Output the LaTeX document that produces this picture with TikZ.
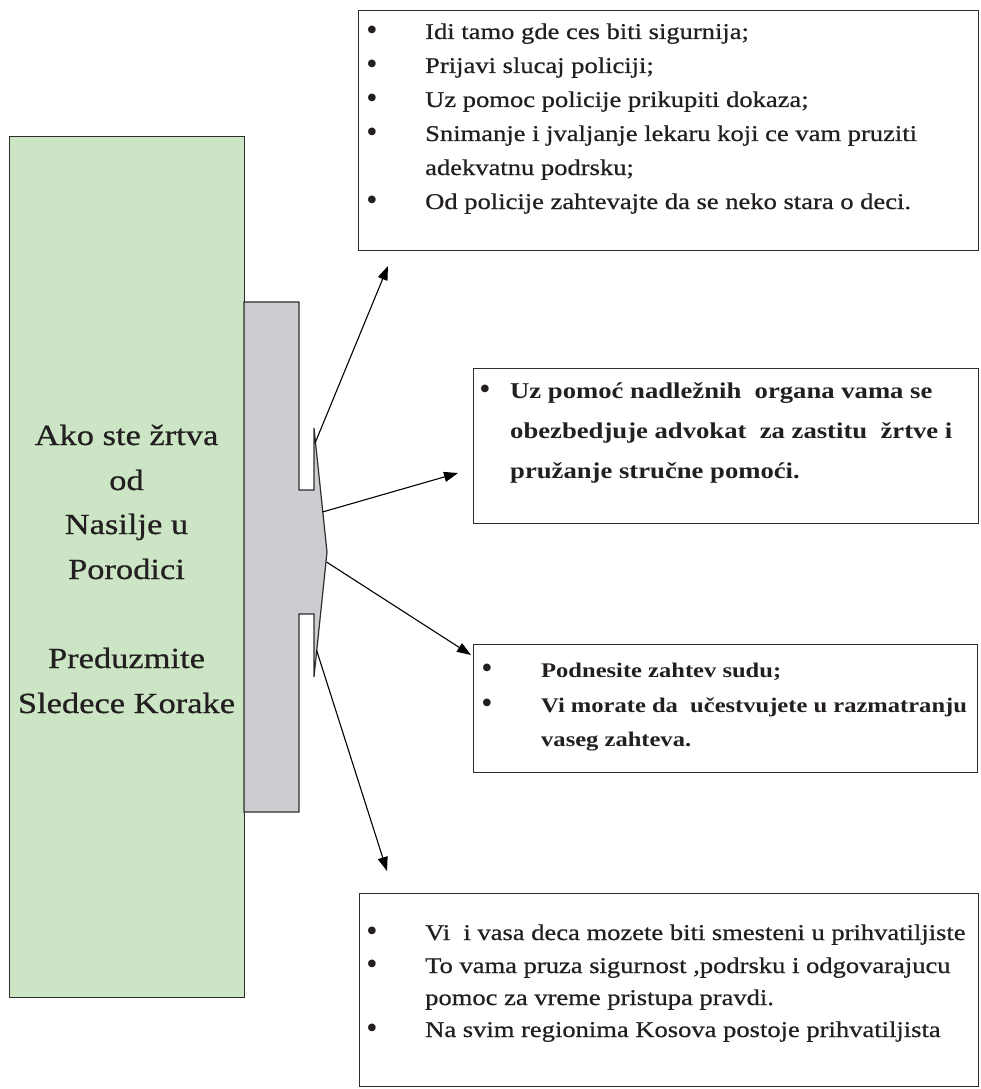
\documentclass[tikz,border=0pt]{standalone}
\usepackage{fontspec}
\setmainfont{Liberation Serif}
\newfontfamily\boxfont[FakeStretch=1.18]{Liberation Serif}
\newfontfamily\regfont[FakeStretch=1.18,FakeBold=0.7]{Liberation Serif}
\usetikzlibrary{arrows.meta}
\definecolor{greenfill}{RGB}{204,230,197}
\definecolor{grayfill}{RGB}{204,205,208}
\definecolor{ink}{RGB}{35,31,32}
\definecolor{edge}{RGB}{45,45,45}
\begin{document}
\begin{tikzpicture}[x=1pt,y=-1pt,
  panel/.style={draw=edge, line width=1.3pt, rectangle, inner sep=0pt, anchor=north west},
  ln/.style={anchor=base west, inner sep=0pt, text=ink},
  bul/.style={anchor=center, inner sep=0pt, text=ink, font=\fontsize{32}{32}\selectfont},
  reg/.style={font=\regfont\fontsize{22.5}{34}\selectfont},
  bld/.style={font=\boxfont\bfseries\fontsize{22.6}{38}\selectfont},
  bldc/.style={font=\boxfont\bfseries\fontsize{20.8}{34}\selectfont},
  ttl/.style={anchor=base, inner sep=0pt, text=ink, font=\regfont\fontsize{29.2}{44}\selectfont},
  conn/.style={line width=1.1pt, draw=black, -{Triangle[length=14pt,width=10pt]}}
]
\useasboundingbox (0,0) rectangle (980,1089);
% main green panel
\node[panel, fill=greenfill, minimum width=235pt, minimum height=861pt] (main) at (9,136) {};
\node[ttl] (t1) at (126.5,445) {Ako ste žrtva};
\node[ttl] (t2) at (126.5,490) {od};
\node[ttl] (t3) at (126.5,534) {Nasilje u};
\node[ttl] (t4) at (126.5,579) {Porodici};
\node[ttl] (t5) at (126.5,668) {Preduzmite};
\node[ttl] (t6) at (126.5,713) {Sledece Korake};
% grey arrow shape
\draw[draw=edge, line width=1.2pt, fill=grayfill]
  (244,302) -- (299,302) -- (299,490) -- (314,490) -- (314,428) -- (327,552)
  -- (314,677) -- (314,614) -- (299,614) -- (299,812) -- (244,812) -- cycle;
\coordinate (s1) at (315.5,442);
\coordinate (s2) at (322.5,512);
\coordinate (s3) at (326.5,562);
\coordinate (s4) at (316.5,650);
\coordinate (e1) at (388,266);
\coordinate (e2) at (458,473);
\coordinate (e3) at (471,655);
\coordinate (e4) at (387,871);
% boxes
\node[panel, minimum width=620pt, minimum height=240pt] (b1) at (358,10) {};
\node[panel, minimum width=505pt, minimum height=155pt] (b2) at (473,368) {};
\node[panel, minimum width=504pt, minimum height=128pt] (b3) at (473,644) {};
\node[panel, minimum width=619pt, minimum height=193pt] (b4) at (359,893) {};
% connectors
\draw[conn] (s1) -- (e1);
\draw[conn] (s2) -- (e2);
\draw[conn] (s3) -- (e3);
\draw[conn] (s4) -- (e4);
% box 1 text
\begin{scope}[reg]
\node[bul] (b1a) at (372,33) {•};
\node[ln] (b1at) at (425,39) {Idi tamo gde ces biti sigurnija;};
\node[bul] (b1b) at (372,67) {•};
\node[ln] (b1bt) at (425,73) {Prijavi slucaj policiji;};
\node[bul] (b1c) at (372,101) {•};
\node[ln] (b1ct) at (425,107) {Uz pomoc policije prikupiti dokaza;};
\node[bul] (b1d) at (372,135) {•};
\node[ln] (b1dt) at (425,141) {Snimanje i jvaljanje lekaru koji ce vam pruziti};
\node[ln] (b1et) at (425,175) {adekvatnu podrsku;};
\node[bul] (b1f) at (372,203) {•};
\node[ln] (b1ft) at (425,209) {Od policije zahtevajte da se neko stara o deci.};
\end{scope}
% box 2 text
\begin{scope}[bld]
\node[bul] (b2a) at (485,392) {•};
\node[ln] (b2at) at (510,398) {Uz pomoć nadležnih\ \ organa vama se};
\node[ln] (b2bt) at (510,438) {obezbedjuje advokat\ \ za zastitu\ \ žrtve i};
\node[ln] (b2ct) at (510,478) {pružanje stručne pomoći.};
\end{scope}
% box 3 text
\begin{scope}[bldc]
\node[bul] (b3a) at (487,671) {•};
\node[ln] (b3at) at (541,677) {Podnesite zahtev sudu;};
\node[bul] (b3b) at (487,706) {•};
\node[ln] (b3bt) at (541,712) {Vi morate da\ \ učestvujete u razmatranju};
\node[ln] (b3ct) at (541,746) {vaseg zahteva.};
\end{scope}
% box 4 text
\begin{scope}[reg]
\node[bul] (b4a) at (372,934) {•};
\node[ln] (b4at) at (425,940) {Vi\ \ i vasa deca mozete biti smesteni u prihvatiljiste};
\node[bul] (b4b) at (372,967) {•};
\node[ln] (b4bt) at (425,973) {To vama pruza sigurnost ,podrsku i odgovarajucu};
\node[ln] (b4ct) at (425,1005) {pomoc za vreme pristupa pravdi.};
\node[bul] (b4d) at (372,1031) {•};
\node[ln] (b4dt) at (425,1037) {Na svim regionima Kosova postoje prihvatiljista};
\end{scope}
\end{tikzpicture}
\end{document}
